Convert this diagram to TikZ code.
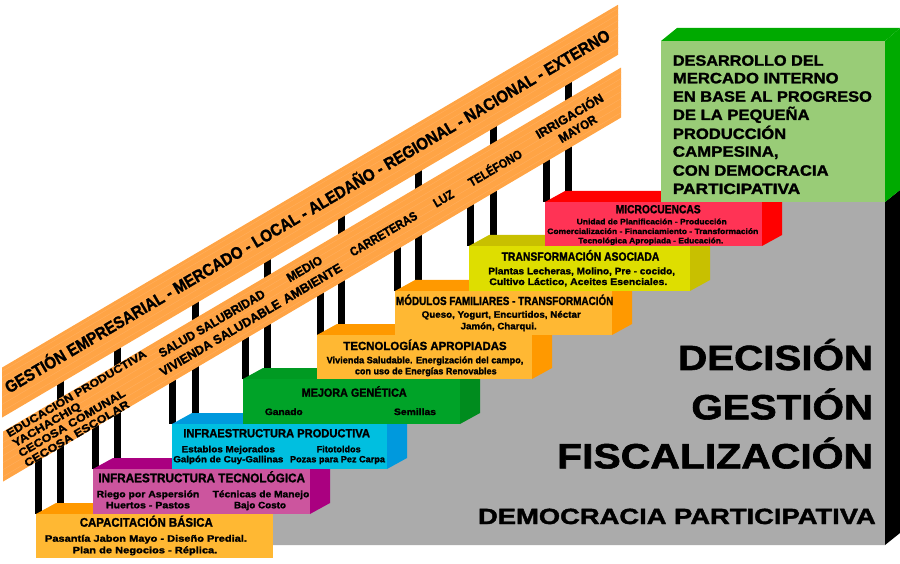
\documentclass[tikz,border=0pt]{standalone}
\usepackage{fontspec}
\setmainfont{Liberation Sans}
\newfontfamily\heavy{Liberation Sans Bold}[FakeBold=1.6]
\usepackage{graphicx}
\definecolor{banner}{HTML}{FFA445}
\definecolor{grain}{HTML}{FFB060}
\definecolor{grayblk}{HTML}{ABABAB}
\definecolor{capF}{HTML}{FFB833}
\definecolor{capT}{HTML}{FF9900}
\definecolor{itF}{HTML}{CC559E}
\definecolor{itT}{HTML}{AA0080}
\definecolor{ipF}{HTML}{00BFE0}
\definecolor{ipT}{HTML}{0099DD}
\definecolor{mgF}{HTML}{00A328}
\definecolor{mgT}{HTML}{009A22}
\definecolor{mgS}{HTML}{008C1E}
\definecolor{trF}{HTML}{DEDE00}
\definecolor{trT}{HTML}{C8C000}
\definecolor{mcF}{HTML}{FF3355}
\definecolor{mcT}{HTML}{FF0000}
\definecolor{gbF}{HTML}{99CC77}
\definecolor{gbT}{HTML}{00AA00}
\newcommand\tx[7][base]{\node[txt,anchor=#1] (#2) at (#3,#4) {\resizebox{#5pt}{\height}{\heavy\fontsize{#6}{#6}\selectfont #7}};}
% x1 y1 x2 y2 front top side-style
\newcommand\stepblock[7]{%
  \fill[#6] (#1,#2) -- ({#1+20},{#2-11}) -- ({#3+20},{#2-11}) -- (#3,#2) -- cycle;
  \path[#7] (#3,#2) -- ({#3+20},{#2-11}) -- ({#3+20},{#4-11}) -- (#3,#4) -- cycle;
  \fill[#5] (#1,#2) rectangle (#3,#4);}
\begin{document}
\begin{tikzpicture}[x=1pt,y=-1pt,
  txt/.style={inner sep=0pt,text=black},
  pillar/.style={fill=black}]
\useasboundingbox (0,0) rectangle (900,564);
% pillars
\fill[pillar] (35,436) rectangle (42,514);
\fill[pillar] (57,358) rectangle (64,514);
\fill[pillar] (92,402) rectangle (99,469);
\fill[pillar] (114,324) rectangle (121,469);
\fill[pillar] (169,356) rectangle (176,424);
\fill[pillar] (192,278) rectangle (199,424);
\fill[pillar] (242,313) rectangle (249,379);
\fill[pillar] (264,236) rectangle (271,379);
\fill[pillar] (317,269) rectangle (324,335);
\fill[pillar] (338,192) rectangle (345,335);
\fill[pillar] (394,224) rectangle (401,291);
\fill[pillar] (415,147) rectangle (422,291);
\fill[pillar] (467,181) rectangle (474,246);
\fill[pillar] (490,103) rectangle (497,246);
\fill[pillar] (543,136) rectangle (550,202);
\fill[pillar] (565,59) rectangle (572,202);
% gray block
\fill[grayblk] (885,545) -- (150,545) -- (150,469) -- (230,469) -- (230,424) -- (300,424)
  -- (300,379) -- (380,379) -- (380,335) -- (450,335) -- (450,291) -- (520,291)
  -- (520,246) -- (600,246) -- (600,202) -- (885,202) -- cycle;
\fill[black] (885,202) -- (900,190) -- (900,533) -- (885,545) -- cycle;
% steps
\stepblock{36}{514}{273}{558}{capF}{capT}{}
\stepblock{93}{469}{310}{514}{itF}{itT}{fill=itT}
\stepblock{172}{424}{387}{469}{ipF}{ipT}{fill=ipT}
\stepblock{243}{379}{460}{424}{mgF}{mgT}{fill=mgS}
\stepblock{317}{335}{532}{379}{capF}{capT}{fill=capT}
\stepblock{395}{291}{612}{335}{capF}{capT}{fill=capT}
\stepblock{469}{246}{690}{291}{trF}{trT}{fill=trT}
\stepblock{545}{202}{762}{246}{mcF}{mcT}{fill=mcT}
% green box
\fill[gbT] (661,41) -- (677,28) -- (900,28) -- (885,41) -- cycle;
\fill[gbT] (885,41) -- (900,28) -- (900,190) -- (885,202) -- cycle;
\fill[gbF] (661,41) rectangle (885,202);
% banners
\fill[banner] (2,367.6) -- (618,4.8) -- (618,54.8) -- (2,417.6) -- cycle;
\fill[banner] (3,431.6) -- (621,67.6) -- (621,117.6) -- (3,481.6) -- cycle;
\begin{scope}
  \clip (2,367.6) -- (618,4.8) -- (618,54.8) -- (2,417.6) -- cycle;
  \foreach \d in {5,11,17,24,31,38,45} \draw[grain,line width=0.35pt] (0,{367.6+\d}) -- (620,{367.6+\d-365.2});
\end{scope}
\begin{scope}
  \clip (3,431.6) -- (621,67.6) -- (621,117.6) -- (3,481.6) -- cycle;
  \foreach \d in {5,11,17,24,31,38,45} \draw[grain,line width=0.35pt] (0,{433.4+\d}) -- (625,{433.4+\d-368.1});
\end{scope}
% upper banner text
\begin{scope}[shift={(0,393.8)},rotate=30.5,transform shape]
  \tx{ub}{357.5}{4.5}{699}{16.7}{GESTIÓN EMPRESARIAL - MERCADO - LOCAL - ALEDAÑO - REGIONAL - NACIONAL - EXTERNO}
\end{scope}
% lower banner text
\begin{scope}[shift={(0,458.4)},rotate=30.5,transform shape]
  \tx[base west]{l1}{18.6}{-13.4}{160}{11}{EDUCACIÓN PRODUCTIVA}
  \tx[base west]{l2}{18.6}{-1.8}{77}{11}{YACHACHIQ}
  \tx[base west]{l3}{18.6}{9.8}{122}{11}{CECOSA COMUNAL}
  \tx[base west]{l4}{18.6}{21.4}{119.7}{11}{CECOSA ESCOLAR}
  \tx{l5}{251}{-4.5}{121}{12.5}{SALUD SALUBRIDAD}
  \tx{l6}{251}{12}{138}{12.5}{VIVIENDA SALUDABLE}
  \tx{l7}{358.5}{-4.5}{39}{12.5}{MEDIO}
  \tx{l8}{358}{12}{66}{12.5}{AMBIENTE}
  \tx{l9}{444.4}{5.5}{76}{12.5}{CARRETERAS}
  \tx{l10}{514}{5.5}{21.5}{12.5}{LUZ}
  \tx{l11}{574}{5.5}{60}{12.5}{TELÉFONO}
  \tx{l12}{664.5}{-1.5}{76}{12.5}{IRRIGACIÓN}
  \tx{l13}{665}{13.5}{42}{12.5}{MAYOR}
\end{scope}
% step texts
\tx{capTt}{146.3}{526.7}{133}{12.5}{CAPACITACIÓN BÁSICA}
\tx{capA}{146}{541.7}{202}{9.3}{Pasantía Jabon Mayo - Diseño Predial.}
\tx{capB}{145}{553.3}{144.6}{9.3}{Plan de Negocios - Réplica.}
\tx{itTt}{201.7}{482.3}{206.7}{12.5}{INFRAESTRUCTURA TECNOLÓGICA}
\tx{itA}{148}{497.3}{102.7}{9.3}{Riego por Aspersión}
\tx{itB}{261}{497.3}{96.7}{9.3}{Técnicas de Manejo}
\tx{itC}{148}{508.3}{84}{9.3}{Huertos - Pastos}
\tx{itD}{260}{508.3}{52}{9.3}{Bajo Costo}
\tx{ipTt}{276.7}{437.3}{186.7}{11.8}{INFRAESTRUCTURA PRODUCTIVA}
\tx{ipA}{228.3}{452.3}{93.3}{9}{Establos Mejorados}
\tx{ipB}{338.7}{452.3}{44}{9}{Fitotoldos}
\tx{ipC}{228.3}{462.3}{110}{9}{Galpón de Cuy-Gallinas}
\tx{ipD}{337.5}{462.3}{95}{9}{Pozas para Pez Carpa}
\tx{mgTt}{354.2}{396.7}{105}{11.8}{MEJORA GENÉTICA}
\tx{mgA}{283.8}{415}{37.7}{9.3}{Ganado}
\tx{mgB}{415}{415}{42}{9.3}{Semillas}
\tx{taTt}{425}{350}{163.3}{11.8}{TECNOLOGÍAS APROPIADAS}
\tx{taA}{425}{363.3}{196.7}{9.3}{Vivienda Saludable. Energización del campo,}
\tx{taB}{425.8}{374.3}{141.7}{9.3}{con uso de Energías Renovables}
\tx{mfTt}{504.7}{305}{217.3}{11.8}{MÓDULOS FAMILIARES - TRANSFORMACIÓN}
\tx{mfA}{501.2}{317.7}{159}{9.3}{Queso, Yogurt, Encurtidos, Néctar}
\tx{mfB}{498.7}{329.3}{76}{9.3}{Jamón, Charqui.}
\tx{trTt}{580.5}{260.7}{157.7}{12}{TRANSFORMACIÓN ASOCIADA}
\tx{trA}{581.7}{274.3}{186.7}{9.5}{Plantas Lecheras, Molino, Pre - cocido,}
\tx{trB}{578.3}{285}{178}{9.5}{Cultivo Láctico, Aceites Esenciales.}
\tx{mcTt}{658.2}{213.3}{85}{11.8}{MICROCUENCAS}
\tx{mcA}{651.7}{224.3}{150}{7.8}{Unidad de Planificación - Producción}
\tx{mcB}{652.8}{234}{211}{7.8}{Comercialización - Financiamiento - Transformación}
\tx{mcC}{650.8}{243.3}{145}{7.8}{Tecnológica Apropiada - Educación.}
% green box text
\tx[base west]{g1}{672.7}{65.7}{150.7}{15}{DESARROLLO DEL}
\tx[base west]{g2}{672.7}{83.3}{165.7}{15}{MERCADO INTERNO}
\tx[base west]{g3}{672.7}{101.7}{199}{15}{EN BASE AL PROGRESO}
\tx[base west]{g4}{672.7}{120}{136.7}{15}{DE LA PEQUEÑA}
\tx[base west]{g5}{672.7}{139}{113.3}{15}{PRODUCCIÓN}
\tx[base west]{g6}{672.7}{156.7}{105.7}{15}{CAMPESINA,}
\tx[base west]{g7}{672.7}{175.7}{155.7}{15}{CON DEMOCRACIA}
\tx[base west]{g8}{672.7}{194}{127.3}{15}{PARTICIPATIVA}
% big texts
\tx[base east]{d1}{873.3}{370}{195}{35}{DECISIÓN}
\tx[base east]{d2}{873.3}{419.3}{181.7}{35}{GESTIÓN}
\tx[base east]{d3}{873.3}{468.3}{316}{35}{FISCALIZACIÓN}
\tx[base east]{d4}{876}{524}{397.7}{22}{DEMOCRACIA PARTICIPATIVA}
\end{tikzpicture}
\end{document}
